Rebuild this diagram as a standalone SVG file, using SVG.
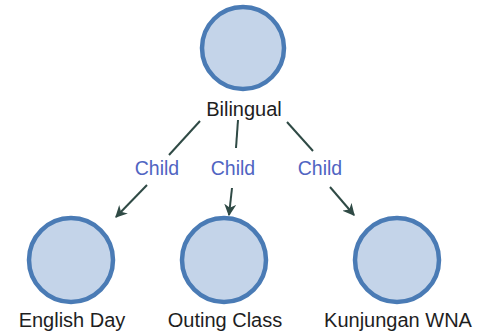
<svg xmlns="http://www.w3.org/2000/svg" width="481" height="333" viewBox="0 0 481 333">
<defs>
<style>
.node circle{fill:#c4d4e9;stroke:#4a7bb5;stroke-width:4.5}
.node text{font-family:"Liberation Sans",Arial,sans-serif;font-size:20px;fill:#1e1e1e;text-anchor:middle}
.edge line{stroke:#2f4a45;stroke-width:2}
.lbl{font-family:"Liberation Sans",Arial,sans-serif;font-size:19.5px;fill:#5064c2;text-anchor:middle}
</style>
<marker id="ah" viewBox="0 0 10 10" refX="9" refY="5" markerWidth="6" markerHeight="6" orient="auto" markerUnits="strokeWidth">
<path d="M0,0 L10,5 L0,10 L3,5 Z" fill="#2f4a45"/>
</marker>
</defs>
<rect width="481" height="333" fill="#ffffff"/>
<g id="connectors" class="edge">
<line x1="200" y1="121" x2="169" y2="155"/>
<line x1="147" y1="185" x2="116" y2="217" marker-end="url(#ah)"/>
<line x1="238" y1="120" x2="236" y2="148"/>
<line x1="232" y1="188" x2="229" y2="215" marker-end="url(#ah)"/>
<line x1="287" y1="122" x2="313" y2="151"/>
<line x1="330" y1="187" x2="354" y2="215" marker-end="url(#ah)"/>
<text class="lbl" x="157" y="175">Child</text>
<text class="lbl" x="233" y="175">Child</text>
<text class="lbl" x="320" y="175">Child</text>
</g>
<g id="bilingual" class="node">
<circle cx="243" cy="48" r="41"/>
<text x="244" y="116">Bilingual</text>
</g>
<g id="english-day" class="node">
<circle cx="71" cy="260" r="42"/>
<text x="72" y="327">English Day</text>
</g>
<g id="outing-class" class="node">
<circle cx="224" cy="260" r="42"/>
<text x="225" y="327">Outing Class</text>
</g>
<g id="kunjungan-wna" class="node">
<circle cx="397" cy="260" r="42"/>
<text x="398" y="327">Kunjungan WNA</text>
</g>
</svg>
